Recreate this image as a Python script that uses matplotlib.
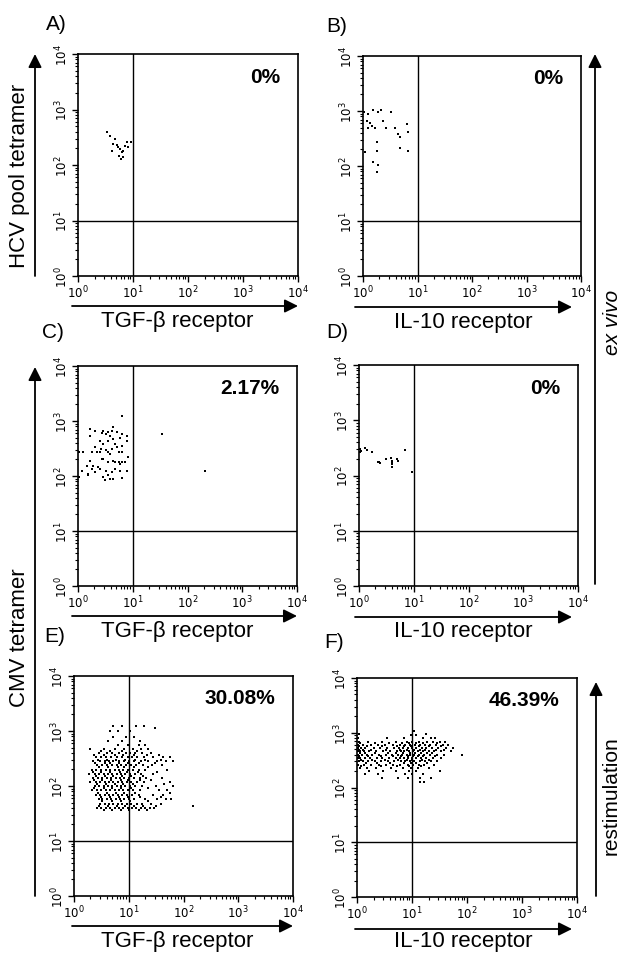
import numpy as np
import matplotlib.pyplot as plt
from matplotlib.patches import FancyArrowPatch

plt.rcParams['font.family'] = ['Liberation Sans', 'DejaVu Sans']

W, H = 622, 954

# all values are log10 fluorescence intensity
# A) HCV pool tetramer vs TGF-beta receptor
a_x = [0.53, 0.58, 0.67, 0.64, 0.71, 0.73, 0.76, 0.80, 0.75, 0.82, 0.82, 0.89, 0.96, 0.86, 0.62, 0.78, 0.91]
a_y = [2.60, 2.52, 2.47, 2.38, 2.36, 2.32, 2.29, 2.23, 2.16, 2.14, 2.25, 2.41, 2.41, 2.34, 2.25, 2.11, 2.32]

# B) HCV pool tetramer vs IL-10 receptor
b_x = [0.02, 0.10, 0.19, 0.28, 0.33, 0.51, 0.07, 0.13, 0.22, 0.36, 0.42, 0.59, 0.65, 0.68, 0.80, 0.83,
       0.67, 0.83, 0.25, 0.25, 0.04, 0.19, 0.28, 0.25, 0.10, 0.16]
b_y = [2.98, 2.95, 3.01, 2.98, 3.01, 2.98, 2.82, 2.79, 2.70, 2.82, 2.70, 2.70, 2.58, 2.52, 2.76, 2.61,
       2.32, 2.28, 2.44, 2.28, 2.25, 2.07, 2.01, 1.89, 2.70, 2.73]

# C) CMV tetramer vs TGF-beta receptor, ex vivo
c_x = [0.80, 0.22, 0.22, 0.31, 0.43, 0.46, 0.52, 0.55, 0.58, 0.62, 0.64, 0.71, 0.80, 0.89, 0.89, 0.77, 0.64, 0.55,
       0.40, 0.46, 0.31, 0.42, 0.52, 0.62, 0.71, 0.80, 0.68, 0.01, 0.10, 0.25, 0.34, 0.40, 0.55, 0.58, 0.74, 0.80,
       0.92, 0.22, 0.43, 0.46, 0.55, 0.64, 0.68, 0.74, 0.77, 0.80, 0.86, 0.16, 0.28, 0.37, 0.25, 0.07, 0.19, 0.31,
       0.40, 0.52, 0.62, 0.68, 0.77, 0.89, 0.46, 0.55, 0.58, 0.64, 0.80, 0.49, 0.01, 0.19, 1.53, 2.32]
c_y = [3.09, 2.85, 2.73, 2.82, 2.78, 2.81, 2.76, 2.80, 2.73, 2.81, 2.89, 2.80, 2.76, 2.73, 2.63, 2.69, 2.67, 2.64,
       2.64, 2.58, 2.52, 2.49, 2.48, 2.50, 2.52, 2.55, 2.58, 2.44, 2.43, 2.43, 2.43, 2.43, 2.44, 2.40, 2.44, 2.43,
       2.34, 2.28, 2.31, 2.31, 2.25, 2.28, 2.25, 2.26, 2.22, 2.25, 2.25, 2.19, 2.19, 2.16, 2.13, 2.10, 2.04, 2.07,
       2.13, 2.10, 2.07, 2.13, 2.10, 2.10, 1.98, 2.01, 1.95, 1.95, 1.96, 1.93, 1.98, 2.01, 2.76, 2.09]

# D) CMV tetramer vs IL-10 receptor, ex vivo
d_x = [0.02, 0.02, 0.11, 0.14, 0.23, 0.37, 0.38, 0.49, 0.58, 0.60, 0.60, 0.61, 0.69, 0.71, 0.84, 0.97, 0.04, 0.34, 0.61]
d_y = [2.48, 2.42, 2.49, 2.47, 2.42, 2.25, 2.23, 2.30, 2.31, 2.27, 2.21, 2.15, 2.30, 2.27, 2.47, 2.07, 2.45, 2.24, 2.24]

# E) CMV tetramer vs TGF-beta receptor, after restimulation (rows: y, list of x)
e_rows = [
    (3.10, [0.72, 0.87, 1.14, 1.27]),
    (3.05, [1.48]),
    (3.00, [0.66, 0.80, 1.02]),
    (2.90, [0.72, 0.95, 1.10]),
    (2.82, [0.62, 0.87, 1.20]),
    (2.75, [0.80, 0.98, 1.18, 1.30]),
    (2.68, [0.30, 0.55, 0.75, 0.92, 1.08, 1.22, 1.35]),
    (2.64, [0.50, 0.66, 0.88, 1.15]),
    (2.60, [0.45, 0.60, 0.70, 0.82, 0.95, 1.02, 1.12, 1.25, 1.40]),
    (2.56, [0.36, 0.54, 0.74, 0.90, 1.10, 1.33, 1.55]),
    (2.52, [0.40, 0.50, 0.58, 0.68, 0.78, 0.88, 0.98, 1.06, 1.15, 1.28, 1.45, 1.62, 1.75]),
    (2.48, [0.44, 0.60, 0.76, 0.94, 1.12, 1.30, 1.58]),
    (2.45, [0.35, 0.47, 0.56, 0.64, 0.72, 0.83, 0.92, 1.00, 1.10, 1.22, 1.35, 1.52, 1.68, 1.80]),
    (2.41, [0.38, 0.56, 0.66, 0.82, 0.99, 1.18, 1.48]),
    (2.38, [0.42, 0.52, 0.60, 0.70, 0.78, 0.86, 0.95, 1.04, 1.14, 1.26, 1.42, 1.60]),
    (2.34, [0.46, 0.63, 0.80, 0.92, 1.10, 1.36]),
    (2.30, [0.32, 0.40, 0.50, 0.58, 0.66, 0.74, 0.82, 0.90, 0.98, 1.08, 1.18, 1.30, 1.70]),
    (2.26, [0.34, 0.50, 0.66, 0.84, 0.97, 1.16, 1.52]),
    (2.22, [0.28, 0.38, 0.46, 0.54, 0.62, 0.70, 0.78, 0.86, 0.94, 1.02, 1.12, 1.22, 1.45]),
    (2.18, [0.40, 0.56, 0.72, 0.88, 1.05, 1.26]),
    (2.15, [0.35, 0.44, 0.52, 0.60, 0.68, 0.76, 0.84, 0.92, 1.00, 1.10, 1.20, 1.32, 1.60]),
    (2.11, [0.36, 0.52, 0.68, 0.85, 0.99, 1.20, 1.40]),
    (2.08, [0.30, 0.40, 0.48, 0.56, 0.64, 0.72, 0.80, 0.88, 0.96, 1.05, 1.15, 1.28, 1.75]),
    (2.04, [0.42, 0.58, 0.74, 0.90, 1.08, 1.65]),
    (2.00, [0.38, 0.46, 0.54, 0.62, 0.70, 0.78, 0.86, 0.94, 1.02, 1.12, 1.25, 1.50, 1.80]),
    (1.96, [0.36, 0.54, 0.70, 0.86, 1.04, 1.35]),
    (1.92, [0.32, 0.42, 0.50, 0.58, 0.66, 0.74, 0.82, 0.90, 0.98, 1.08, 1.20, 1.55, 1.70]),
    (1.88, [0.44, 0.60, 0.76, 0.92, 1.12, 1.75]),
    (1.84, [0.40, 0.48, 0.56, 0.64, 0.72, 0.80, 0.88, 0.96, 1.06, 1.18, 1.45, 1.62]),
    (1.80, [0.50, 0.66, 0.82, 0.98, 1.20, 1.58]),
    (1.76, [0.45, 0.52, 0.60, 0.68, 0.76, 0.84, 0.92, 1.00, 1.10, 1.30, 1.52, 1.68, 1.78]),
    (1.72, [0.52, 0.70, 0.86, 1.02, 1.36]),
    (1.68, [0.48, 0.56, 0.64, 0.72, 0.80, 0.88, 0.96, 1.05, 1.15, 1.25, 1.40, 1.58]),
    (1.64, [0.46, 0.62, 0.78, 0.94, 1.10, 1.26, 1.50, 2.17]),
    (1.60, [0.42, 0.50, 0.58, 0.66, 0.74, 0.82, 0.90, 0.98, 1.06, 1.14, 1.22, 1.30, 1.38, 1.46]),
    (1.56, [0.55, 0.70, 0.85, 1.00, 1.18, 1.34]),
]

# F) CMV tetramer vs IL-10 receptor, after restimulation
f_rows = [
    (3.04, [1.04]),
    (2.98, [0.04, 1.25]),
    (2.95, [0.99, 1.07]),
    (2.90, [0.02, 0.55, 0.85, 1.20, 1.35, 1.42]),
    (2.84, [0.03, 0.20, 0.45, 0.70, 0.90, 1.00, 1.12, 1.28, 1.38, 1.50, 1.60]),
    (2.81, [0.06, 0.32, 0.58, 0.82, 0.94, 1.08, 1.20, 1.46]),
    (2.78, [0.01, 0.10, 0.25, 0.38, 0.50, 0.65, 0.78, 0.88, 0.96, 1.05, 1.15, 1.24, 1.33, 1.44, 1.56, 1.66]),
    (2.75, [0.04, 0.18, 0.46, 0.72, 0.86, 0.98, 1.12, 1.30, 1.52]),
    (2.72, [0.02, 0.08, 0.15, 0.30, 0.42, 0.55, 0.68, 0.76, 0.84, 0.92, 1.00, 1.08, 1.18, 1.26, 1.36, 1.48, 1.62, 1.74]),
    (2.69, [0.03, 0.11, 0.26, 0.52, 0.78, 0.90, 1.04, 1.14, 1.24, 1.44, 1.58]),
    (2.66, [0.01, 0.06, 0.12, 0.22, 0.35, 0.48, 0.60, 0.72, 0.80, 0.86, 0.94, 1.02, 1.10, 1.20, 1.30, 1.40, 1.52, 1.70]),
    (2.63, [0.05, 0.14, 0.32, 0.56, 0.70, 0.84, 0.96, 1.06, 1.16, 1.28, 1.36]),
    (2.60, [0.02, 0.09, 0.18, 0.28, 0.40, 0.52, 0.64, 0.74, 0.82, 0.90, 0.97, 1.04, 1.12, 1.22, 1.32, 1.45, 1.58, 1.90]),
    (2.57, [0.03, 0.20, 0.44, 0.66, 0.80, 0.92, 1.02, 1.10, 1.20, 1.42]),
    (2.54, [0.01, 0.05, 0.14, 0.24, 0.36, 0.46, 0.58, 0.70, 0.78, 0.86, 0.93, 1.00, 1.08, 1.16, 1.26, 1.38, 1.52]),
    (2.51, [0.07, 0.28, 0.50, 0.74, 0.90, 1.00, 1.18, 1.30]),
    (2.48, [0.03, 0.10, 0.20, 0.32, 0.44, 0.56, 0.68, 0.80, 0.88, 0.96, 1.04, 1.14, 1.24, 1.34, 1.46]),
    (2.45, [0.16, 0.36, 0.60, 0.86, 0.98, 1.08, 1.28]),
    (2.42, [0.02, 0.12, 0.26, 0.40, 0.52, 0.66, 0.78, 0.92, 1.02, 1.12, 1.22, 1.40]),
    (2.39, [0.08, 0.44, 0.72, 0.94, 1.16]),
    (2.36, [0.05, 0.18, 0.34, 0.62, 0.84, 0.98, 1.10, 1.30]),
    (2.30, [0.22, 0.48, 0.70, 0.95, 1.08, 1.50]),
    (2.24, [0.15, 0.38, 0.88, 1.00, 1.20]),
    (2.18, [0.45, 0.75, 0.92, 1.14, 1.35]),
    (2.10, [1.15, 1.22]),
]

e_x = [x for y, xs in e_rows for x in xs]
e_y = [y for y, xs in e_rows for x in xs]
f_x = [x for y, xs in f_rows for x in xs]
f_y = [y for y, xs in f_rows for x in xs]

letters = ['A)', 'B)', 'C)', 'D)', 'E)', 'F)']
percents = ['0%', '0%', '2.17%', '0%', '30.08%', '46.39%']
xlabels = ['TGF-β receptor', 'IL-10 receptor'] * 3
data = [(a_x, a_y), (b_x, b_y), (c_x, c_y), (d_x, d_y), (e_x, e_y), (f_x, f_y)]

# panel boxes in pixels: left, top, right, bottom
boxes = [(78, 55, 298, 277), (363, 57, 581, 277),
         (78, 367, 297, 587), (359, 366, 578, 587),
         (74, 677, 293, 897), (357, 679, 577, 898)]

fig = plt.figure(figsize=(W / 100, H / 100), dpi=100)


def fp(x, y):
    return (x / W, 1 - y / H)


def arrow(x0, y0, x1, y1):
    fig.add_artist(FancyArrowPatch(
        fp(x0, y0), fp(x1, y1), transform=fig.transFigure,
        arrowstyle='-|>', mutation_scale=20, lw=1.3, color='black',
        shrinkA=0, shrinkB=0))


ticks = [1, 10, 100, 1000, 10000]
tick_labels = ['$10^{0}$', '$10^{1}$', '$10^{2}$', '$10^{3}$', '$10^{4}$']

for i, (l, t, r, b) in enumerate(boxes):
    ax = fig.add_axes([l / W, 1 - b / H, (r - l) / W, (b - t) / H])
    xs, ys = data[i]
    ax.scatter(np.power(10.0, xs), np.power(10.0, ys), s=3.5, marker='s', color='black', linewidths=0)
    ax.set_xscale('log')
    ax.set_yscale('log')
    ax.set_xlim(1, 10000)
    ax.set_ylim(1, 10000)
    ax.axvline(10, color='black', lw=1.0)
    ax.axhline(10, color='black', lw=1.0)
    ax.set_xticks(ticks)
    ax.set_xticklabels(tick_labels, fontsize=8.5)
    ax.set_yticks(ticks)
    ax.set_yticklabels(tick_labels, fontsize=8.5, rotation=90, va='center')
    ax.tick_params(which='major', length=4, width=1, pad=1.5)
    ax.tick_params(which='minor', length=2.5, width=0.8)
    for s in ax.spines.values():
        s.set_linewidth(1.2)
    ax.text(0.92, 0.90, percents[i], transform=ax.transAxes, ha='right', va='center',
            fontsize=15, fontweight='bold')

# panel letters
letter_pos = [(46, 25), (326, 27), (42, 332), (326, 332), (44, 637), (324, 643)]
for txt, (x, y) in zip(letters, letter_pos):
    fig.text(*fp(x, y), txt, fontsize=15, ha='left', va='center')

# x-axis arrows and labels
x_arrows = [(72, 298, 307, 177, 322), (355, 572, 308, 463, 323),
            (72, 297, 617, 177, 632), (355, 572, 618, 463, 632),
            (72, 293, 927, 177, 942), (355, 572, 930, 463, 942)]
for (x0, x1, y, lx, ly), lab in zip(x_arrows, xlabels):
    arrow(x0, y, x1, y)
    fig.text(*fp(lx, ly), lab, fontsize=16, ha='center', va='center')

# y-axis arrows
arrow(35, 277, 35, 55)
fig.text(*fp(20, 176), 'HCV pool tetramer', fontsize=16, rotation=90, ha='center', va='center')
arrow(35, 897, 35, 368)
fig.text(*fp(20, 638), 'CMV tetramer', fontsize=16, rotation=90, ha='center', va='center')

# right-hand condition arrows
arrow(595, 585, 595, 55)
fig.text(*fp(612, 322), 'ex vivo', fontsize=15, style='italic', rotation=90, ha='center', va='center')
arrow(596, 897, 596, 683)
fig.text(*fp(611, 796), 'restimulation', fontsize=15, rotation=90, ha='center', va='center')

fig.savefig('out.png', dpi=100)
